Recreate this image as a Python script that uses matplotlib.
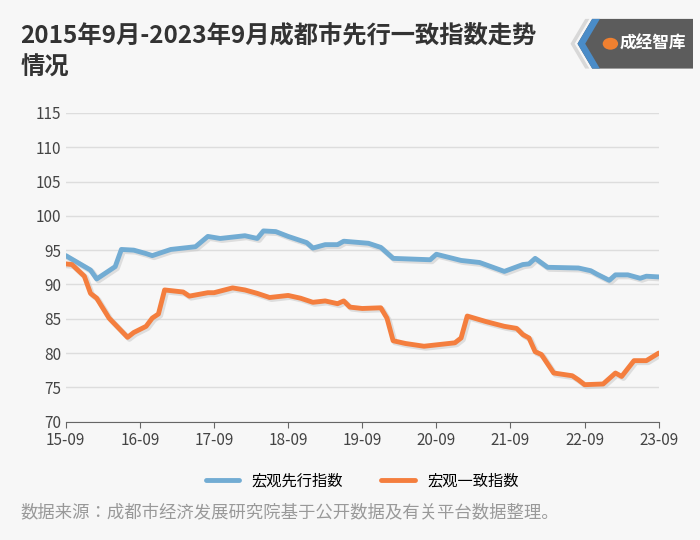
import matplotlib.pyplot as plt
import matplotlib.patches as mpatches
from matplotlib import font_manager

names = set(f.name for f in font_manager.fontManager.ttflist)
cjk = [n for n in ["Noto Sans CJK SC", "Noto Sans CJK JP", "Noto Sans CJK TC", "Noto Sans CJK KR", "Noto Sans SC"] if n in names]
plt.rcParams["font.family"] = "sans-serif"
plt.rcParams["font.sans-serif"] = cjk + ["DejaVu Sans"]

# month index (0 = 2015-09) and values
lead_m = [0, 4, 5, 8, 9, 11, 13, 14, 17, 21, 23, 25, 29, 31, 32, 34, 36, 39, 40, 42, 44, 45, 49, 51, 53, 59, 60, 64, 67, 71, 74, 75, 76, 78, 83, 85, 86, 88, 89, 91, 93, 94, 96]
lead_v = [94.2, 92.1, 90.8, 92.6, 95.1, 95.0, 94.5, 94.2, 95.1, 95.5, 97.0, 96.7, 97.1, 96.7, 97.8, 97.7, 97.0, 96.1, 95.3, 95.8, 95.8, 96.3, 96.0, 95.4, 93.8, 93.6, 94.4, 93.5, 93.2, 91.9, 92.9, 93.0, 93.8, 92.5, 92.4, 92.0, 91.5, 90.6, 91.4, 91.4, 90.9, 91.2, 91.1]

coin_m = [0, 1, 3, 4, 5, 7, 10, 11, 13, 14, 15, 16, 19, 20, 23, 24, 27, 29, 31, 33, 36, 38, 40, 42, 44, 45, 46, 48, 51, 52, 53, 55, 58, 63, 64, 65, 68, 71, 73, 74, 75, 76, 77, 79, 82, 83, 84, 87, 89, 90, 92, 94, 96]
coin_v = [93.0, 92.9, 91.2, 88.7, 88.0, 85.1, 82.3, 83.0, 83.9, 85.1, 85.7, 89.2, 88.9, 88.3, 88.8, 88.8, 89.5, 89.2, 88.7, 88.1, 88.4, 88.0, 87.4, 87.6, 87.2, 87.6, 86.7, 86.5, 86.6, 85.1, 81.8, 81.4, 81.0, 81.5, 82.2, 85.4, 84.6, 83.9, 83.6, 82.7, 82.2, 80.2, 79.8, 77.1, 76.7, 76.1, 75.4, 75.5, 77.1, 76.6, 78.9, 78.9, 80.0]

x_ticks = [0, 12, 24, 36, 48, 60, 72, 84, 96]
x_labels = ["15-09", "16-09", "17-09", "18-09", "19-09", "20-09", "21-09", "22-09", "23-09"]

bg = "#f7f7f7"
fig = plt.figure(figsize=(7, 5.4), dpi=100, facecolor=bg)
ax = fig.add_axes([0.094, 0.219, 0.847, 0.572], facecolor=bg)

for m, v, c, lab in [(lead_m, lead_v, "#72acd3", "宏观先行指数"), (coin_m, coin_v, "#f47e3e", "宏观一致指数")]:
    ax.plot([a + 0.3 for a in m], [b - 0.25 for b in v], color="#cccccc", lw=4, alpha=0.6, zorder=2)
    ax.plot(m, v, color=c, lw=3.5, label=lab, zorder=3, solid_capstyle="round")

ax.set_ylim(70, 115)
ax.set_xlim(0, 96)
ax.set_yticks(range(70, 116, 5))
ax.set_xticks(x_ticks)
ax.set_xticklabels(x_labels)
ax.grid(axis="y", color="#dddddd", lw=1)
ax.tick_params(axis="y", length=0, labelsize=11, colors="#444444")
ax.tick_params(axis="x", length=4, labelsize=11, colors="#444444", color="#666666")
for s in ["top", "right", "left"]:
    ax.spines[s].set_visible(False)
ax.spines["bottom"].set_color("#666666")
ax.set_axisbelow(True)

ax.legend(loc="upper center", bbox_to_anchor=(0.5, -0.12), ncol=2, frameon=False,
          fontsize=11, handlelength=2.2, columnspacing=2.5)

fig.text(0.029, 0.935, "2015年9月-2023年9月成都市先行一致指数走势", fontsize=17.5,
         fontweight="bold", color="#333333", va="center")
fig.text(0.029, 0.875, "情况", fontsize=17.5, fontweight="bold", color="#333333", va="center")
fig.text(0.029, 0.052, "数据来源：成都市经济发展研究院基于公开数据及有关平台数据整理。",
         fontsize=12.5, color="#999999", va="center")

# logo
fig.patches.append(mpatches.Polygon([[0.846, 0.965], [0.99, 0.965], [0.99, 0.873], [0.846, 0.873], [0.825, 0.919]],
                                    closed=True, transform=fig.transFigure, facecolor="#5c5c5c", edgecolor="none"))
fig.patches.append(mpatches.Polygon([[0.846, 0.965], [0.857, 0.965], [0.836, 0.919], [0.857, 0.873], [0.846, 0.873], [0.825, 0.919]],
                                    closed=True, transform=fig.transFigure, facecolor="#4a8cc8", edgecolor="none"))
fig.patches.append(mpatches.Polygon([[0.836, 0.965], [0.842, 0.965], [0.821, 0.919], [0.842, 0.873], [0.836, 0.873], [0.815, 0.919]],
                                    closed=True, transform=fig.transFigure, facecolor="#d8d8d8", edgecolor="none"))
fig.patches.append(mpatches.Circle((0.872, 0.919), 0.011, transform=fig.transFigure, facecolor="#f08030", edgecolor="none"))
fig.text(0.885, 0.919, "成经智库", fontsize=12, fontweight="bold", color="white", va="center")

fig.savefig("out.png", dpi=100, facecolor=bg)
